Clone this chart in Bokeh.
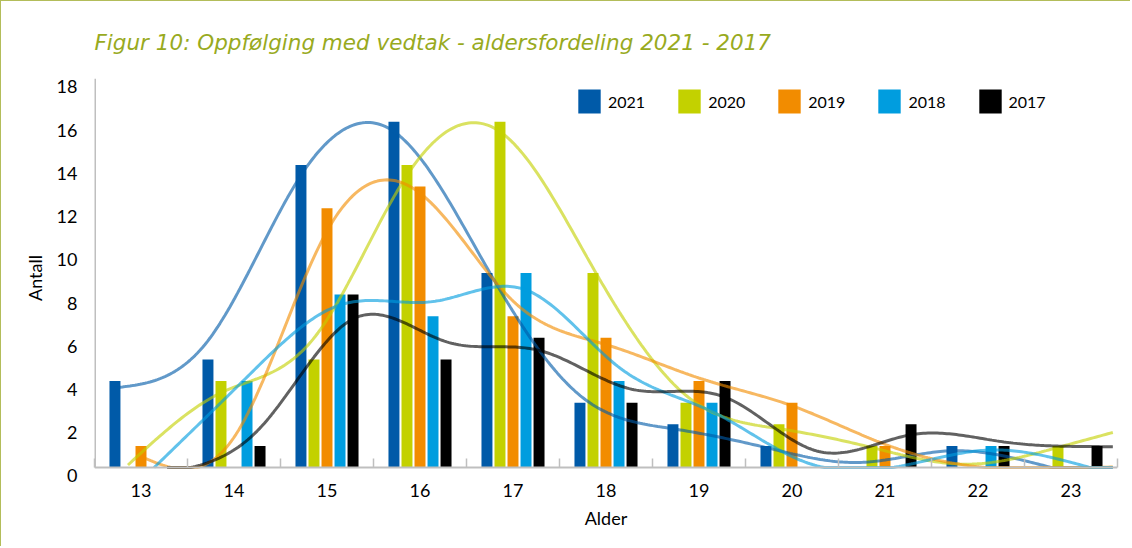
import numpy as np
from bokeh.plotting import figure
from bokeh.models import (ColumnDataSource, Range1d, FixedTicker, Legend, LegendItem, Title, Span)
from bokeh.transform import dodge
from bokeh.embed import file_html
from bokeh.resources import INLINE

ages = [13, 14, 15, 16, 17, 18, 19, 20, 21, 22, 23]
years = ["2021", "2020", "2019", "2018", "2017"]
v2021 = [4, 5, 14, 16, 9, 3, 2, 1, 0, 1, 0]
v2020 = [0, 4, 5, 14, 16, 9, 3, 2, 1, 0, 1]
v2019 = [1, 0, 12, 13, 7, 6, 4, 3, 1, 0, 0]
v2018 = [0, 4, 8, 7, 9, 4, 3, 0, 0, 1, 0]
v2017 = [0, 1, 8, 5, 6, 3, 4, 0, 2, 1, 1]
yticks = [0, 2, 4, 6, 8, 10, 12, 14, 16, 18]

series = [v2021, v2020, v2019, v2018, v2017]
bar_colors = ["#005aa8", "#c3d100", "#f28c00", "#009ddf", "#000000"]
offsets = [-0.28, -0.14, 0.0, 0.14, 0.28]

FONT = "Lato"
AXIS_GREY = "#bfbfbf"
PAD = 0.463     # empty strip below the zero line (in y units)
SHIFT = 0.393   # tick labels sit a little below their value, as in the source


def smoothing_spline(x, y, lam):
    """Cubic smoothing spline (Reinsch); returns knot values and 2nd derivatives."""
    x = np.asarray(x, float)
    y = np.asarray(y, float)
    n = len(x)
    h = np.diff(x)
    Q = np.zeros((n, n - 2))
    R = np.zeros((n - 2, n - 2))
    for j in range(1, n - 1):
        Q[j - 1, j - 1] = 1 / h[j - 1]
        Q[j, j - 1] = -1 / h[j - 1] - 1 / h[j]
        Q[j + 1, j - 1] = 1 / h[j]
        R[j - 1, j - 1] = (h[j - 1] + h[j]) / 3
        if j < n - 2:
            R[j - 1, j] = R[j, j - 1] = h[j] / 6
    K = Q @ np.linalg.solve(R, Q.T)
    g = np.linalg.solve(np.eye(n) + lam * K, y)
    gam = np.r_[0.0, np.linalg.solve(R, Q.T @ g), 0.0]
    return x, g, gam


def eval_spline(sp, t):
    x, g, gam = sp
    t = np.asarray(t, float)
    out = np.empty_like(t)
    for k, tv in enumerate(t):
        if tv <= x[0]:
            hh = x[1] - x[0]
            d = (g[1] - g[0]) / hh - hh * gam[1] / 6
            out[k] = g[0] + d * (tv - x[0])
        elif tv >= x[-1]:
            hh = x[-1] - x[-2]
            d = (g[-1] - g[-2]) / hh + hh * gam[-2] / 6
            out[k] = g[-1] + d * (tv - x[-1])
        else:
            i = min(max(np.searchsorted(x, tv) - 1, 0), len(x) - 2)
            hh = x[i + 1] - x[i]
            a = tv - x[i]
            b = x[i + 1] - tv
            out[k] = (a * g[i + 1] + b * g[i]) / hh - a * b / 6 * (
                (1 + a / hh) * gam[i + 1] + (1 + b / hh) * gam[i])
    return out


ymax = yticks[-1]
p = figure(width=1130, height=546, output_backend="svg", toolbar_location=None,
           x_range=Range1d(12.5, 23.5), y_range=Range1d(-PAD, ymax),
           min_border_left=93, min_border_right=14, min_border_top=77, min_border_bottom=70)
p.extra_y_ranges = {"lab": Range1d(-PAD + SHIFT, ymax + SHIFT)}
p.styles = {"border-left": "1.5px solid #b3bd5a", "border-top": "1.5px solid #b3bd5a"}

p.xgrid.visible = False
p.ygrid.visible = False
p.outline_line_color = None

src = ColumnDataSource(dict(age=ages, **{y: s for y, s in zip(years, series)}))

items = []
for y, col, off in zip(years, bar_colors, offsets):
    r = p.vbar(x=dodge("age", off), top=y, width=0.118, source=src,
               fill_color=col, line_color=None)
    items.append(LegendItem(label=y, renderers=[r]))

# smoothed trend curves through each series (hidden below the zero line)
for s, col, off in zip(series, bar_colors, offsets):
    sp = smoothing_spline(ages, s, 0.03)
    xs = np.linspace(13, 23.45 - off, 400)
    ys = np.maximum(eval_spline(sp, xs), 0)
    p.line(xs + off, ys, line_color=col, line_alpha=0.62, line_width=3)

# value axis line (from zero up) and zero line
xr = p.x_range
p.segment(x0=[xr.start], y0=[0], x1=[xr.start], y1=[ymax], line_color=AXIS_GREY, line_width=3)
p.add_layout(Span(location=0, dimension="width", line_color=AXIS_GREY, line_width=2))

legend = Legend(items=items, orientation="horizontal", location=(481, 361),
                padding=0, margin=0, spacing=30, label_standoff=5,
                glyph_width=28, glyph_height=30,
                label_text_font=FONT, label_text_font_size="16px",
                label_text_color="#000000",
                border_line_color=None, background_fill_alpha=0)
p.add_layout(legend, "center")

# category axis
xax = p.xaxis[0]
xax.ticker = FixedTicker(ticks=ages, minor_ticks=[a - 0.5 for a in ages] + [ages[-1] + 0.5])
xax.axis_line_color = None
xax.major_tick_line_color = None
xax.major_tick_in = 0
xax.major_tick_out = 0
xax.minor_tick_in = 19
xax.minor_tick_out = -10
xax.minor_tick_line_color = AXIS_GREY
xax.minor_tick_line_width = 1.5
xax.major_label_text_font = FONT
xax.major_label_text_font_size = "18px"
xax.major_label_text_color = "#000000"
xax.major_label_standoff = 6
xax.axis_label = "Alder"
xax.axis_label_text_font = FONT
xax.axis_label_text_font_size = "18px"
xax.axis_label_text_font_style = "normal"
xax.axis_label_text_color = "#000000"
xax.axis_label_standoff = 7

# value axis labels
yax = p.yaxis[0]
yax.y_range_name = "lab"
yax.ticker = FixedTicker(ticks=yticks, minor_ticks=[])
yax.axis_line_color = None
yax.major_tick_line_color = None
yax.minor_tick_line_color = None
yax.major_tick_in = 0
yax.major_tick_out = 0
yax.major_label_text_font = FONT
yax.major_label_text_font_size = "18px"
yax.major_label_text_color = "#000000"
yax.major_label_standoff = 17
yax.axis_label = "Antall"
yax.axis_label_text_font = FONT
yax.axis_label_text_font_size = "18px"
yax.axis_label_text_font_style = "normal"
yax.axis_label_text_color = "#000000"
yax.axis_label_standoff = 8

title = Title(text="Figur 10: Oppfølging med vedtak - aldersfordeling 2021 - 2017",
              text_font="DejaVu Sans", text_font_size="21.5px", text_font_style="italic",
              text_color="#98aa1e", align="left", offset=0, standoff=48)
p.add_layout(title, "above")

open("out.html", "w").write(file_html(p, INLINE))
